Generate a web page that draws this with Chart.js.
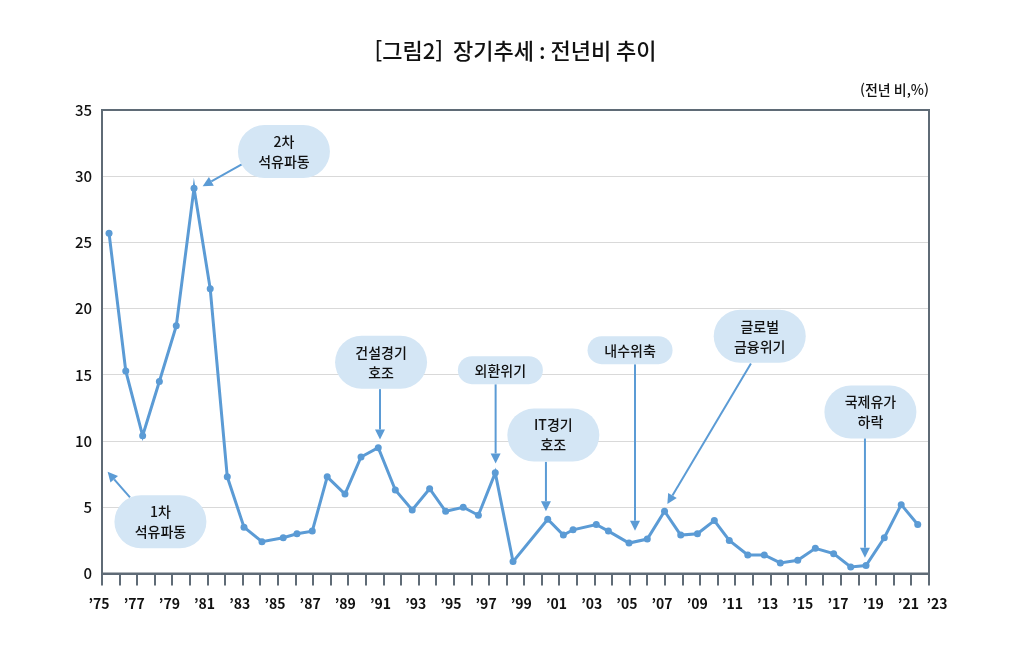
<!DOCTYPE html>
<html lang="ko">
<head>
<meta charset="utf-8">
<title>장기추세 : 전년비 추이</title>
<script src="https://cdn.jsdelivr.net/npm/chart.js@4.4.1/dist/chart.umd.min.js"></script>
<style>
	body { margin: 0; background: #fff; }
</style>
</head>
<body>
<canvas id="trendChart" width="1030" height="650"></canvas>
<script>
const FONT = "'Noto Sans CJK KR', 'Noto Sans', sans-serif";
const LINE_BLUE = '#5b9bd5';
const FRAME = '#5f6b76';

// x position of each point (year) and yoy growth (%)
const years = [
	1975.40, 1976.35, 1977.31, 1978.26, 1979.22, 1980.23, 1981.15, 1982.12, 1983.07, 1984.09,
	1985.30, 1986.08, 1986.95, 1987.80, 1988.81, 1989.72, 1990.70, 1991.67, 1992.63, 1993.62,
	1994.53, 1995.53, 1996.39, 1997.35, 1998.36, 2000.33, 2001.22, 2001.77, 2003.09, 2003.78,
	2004.95, 2005.99, 2006.97, 2007.89, 2008.84, 2009.80, 2010.65, 2011.70, 2012.64, 2013.55,
	2014.54, 2015.54, 2016.58, 2017.55, 2018.42, 2019.46, 2020.42, 2021.36
];
const growth = [
	25.7, 15.3, 10.4, 14.5, 18.7, 29.1, 21.5, 7.3, 3.5, 2.4,
	2.7, 3.0, 3.2, 7.3, 6.0, 8.8, 9.5, 6.3, 4.8, 6.4,
	4.7, 5.0, 4.4, 7.6, 0.9, 4.1, 2.9, 3.3, 3.7, 3.2,
	2.3, 2.6, 4.7, 2.9, 3.0, 4.0, 2.5, 1.4, 1.4, 0.8,
	1.0, 1.9, 1.5, 0.5, 0.6, 2.7, 5.2, 3.7
];

// labelled years on the x axis ('23 sits past the last tick)
const yearLabels = [1975, 1977, 1979, 1981, 1983, 1985, 1987, 1989, 1991, 1993, 1995, 1997,
	1999, 2001, 2003, 2005, 2007, 2009, 2011, 2013, 2015, 2017, 2019, 2021, 2023];
const yTicks = [0, 5, 10, 15, 20, 25, 30, 35];

// callouts: box centre and arrow in chart units (year, %)
const callouts = [
	{ text: '2차\n석유파동', box: [1985.34, 31.87], from: [1982.94, 30.90], to: [1980.72, 29.25] },
	{ text: '1차\n석유파동', box: [1978.32, 3.91], from: [1976.59, 5.75], to: [1975.32, 7.68] },
	{ text: '건설경기\n호조', box: [1990.86, 15.95], from: [1990.80, 13.92], to: [1990.80, 10.12] },
	{ text: '외환위기', box: [1997.64, 15.35], from: [1997.37, 14.29], to: [1997.37, 8.31] },
	{ text: 'IT경기\n호조', box: [2000.65, 10.45], from: [2000.23, 8.43], to: [2000.23, 4.71] },
	{ text: '내수위축', box: [2005.01, 16.86], from: [2005.29, 15.80], to: [2005.29, 3.23] },
	{ text: '글로벌\n금융위기', box: [2012.38, 17.92], from: [2011.88, 15.86], to: [2007.13, 5.24] },
	{ text: '국제유가\n하락', box: [2018.67, 12.20], from: [2018.36, 10.22], to: [2018.36, 1.19] }
];

function shortYear(y) {
	return '\u2019' + String(y).slice(2);
}

function pillPath(ctx, x, y, w, h) {
	const r = h / 2;
	ctx.beginPath();
	ctx.moveTo(x + r, y);
	ctx.lineTo(x + w - r, y);
	ctx.arc(x + w - r, y + r, r, -Math.PI / 2, Math.PI / 2);
	ctx.lineTo(x + r, y + h);
	ctx.arc(x + r, y + r, r, Math.PI / 2, Math.PI * 1.5);
	ctx.closePath();
}

function drawArrow(ctx, x1, y1, x2, y2) {
	const ang = Math.atan2(y2 - y1, x2 - x1);
	const len = 10, half = 5;
	const bx = x2 - len * Math.cos(ang), by = y2 - len * Math.sin(ang);
	ctx.strokeStyle = LINE_BLUE;
	ctx.fillStyle = LINE_BLUE;
	ctx.lineWidth = 2;
	ctx.beginPath();
	ctx.moveTo(x1, y1);
	ctx.lineTo(bx, by);
	ctx.stroke();
	ctx.beginPath();
	ctx.moveTo(x2, y2);
	ctx.lineTo(bx + half * Math.sin(ang), by - half * Math.cos(ang));
	ctx.lineTo(bx - half * Math.sin(ang), by + half * Math.cos(ang));
	ctx.closePath();
	ctx.fill();
}

// plot frame on all four sides
const framePlugin = {
	id: 'frame',
	beforeDatasetsDraw(chart) {
		const { ctx, chartArea: a } = chart;
		ctx.save();
		ctx.strokeStyle = FRAME;
		ctx.lineWidth = 2;
		ctx.strokeRect(a.left, a.top, a.right - a.left, a.bottom - a.top);
		ctx.restore();
	}
};

// callout bubbles, unit note and the trailing '23 label
const calloutPlugin = {
	id: 'callouts',
	afterDatasetsDraw(chart) {
		const { ctx, chartArea: a } = chart;
		const xs = chart.scales.x, ys = chart.scales.y;
		ctx.save();
		callouts.forEach(c => {
			drawArrow(ctx,
				xs.getPixelForValue(c.from[0]), ys.getPixelForValue(c.from[1]),
				xs.getPixelForValue(c.to[0]), ys.getPixelForValue(c.to[1]));
		});
		ctx.font = '500 14px ' + FONT;
		ctx.textAlign = 'center';
		ctx.textBaseline = 'middle';
		callouts.forEach(c => {
			const lines = c.text.split('\n');
			const cx = xs.getPixelForValue(c.box[0]);
			const cy = ys.getPixelForValue(c.box[1]);
			const w = lines.length > 1 ? 92 : 85;
			const h = lines.length > 1 ? 53 : 28;
			pillPath(ctx, cx - w / 2, cy - h / 2, w, h);
			ctx.fillStyle = '#d4e6f5';
			ctx.fill();
			ctx.fillStyle = '#111';
			lines.forEach((ln, i) => {
				ctx.fillText(ln, cx, cy + (i - (lines.length - 1) / 2) * 20);
			});
		});

		ctx.font = '500 14px ' + FONT;
		ctx.textAlign = 'right';
		ctx.fillStyle = '#111';
		ctx.fillText('(전년 비,%)', a.right, a.top - 20);

		ctx.font = 'bold 14px ' + FONT;
		ctx.textAlign = 'center';
		ctx.textBaseline = 'top';
		const last = yearLabels[yearLabels.length - 1];
		ctx.fillText(shortYear(last), xs.getPixelForValue(xs.max) + 8, a.bottom + 23);
		ctx.restore();
	}
};

new Chart(document.getElementById('trendChart'), {
	type: 'line',
	data: {
		datasets: [{
			label: '전년비',
			data: years.map((x, i) => ({ x: x, y: growth[i] })),
			borderColor: LINE_BLUE,
			backgroundColor: LINE_BLUE,
			borderWidth: 3,
			pointRadius: 3.5,
			pointBorderWidth: 0,
			pointBackgroundColor: LINE_BLUE,
			tension: 0,
			fill: false
		}]
	},
	options: {
		responsive: false,
		animation: false,
		layout: {
			padding: { left: 0, right: 101, top: 0, bottom: 0 }
		},
		scales: {
			x: {
				type: 'linear',
				min: 1975,
				max: 2022,
				afterFit(scale) { scale.height = 76.5; },
				ticks: {
					stepSize: 1,
					autoSkip: false,
					maxRotation: 0,
					padding: 10,
					labelOffset: -3,
					color: '#111',
					font: { family: FONT, size: 14, weight: 'bold' },
					callback: v => yearLabels.includes(Math.round(v)) ? shortYear(Math.round(v)) : ''
				},
				grid: {
					drawOnChartArea: false,
					drawTicks: true,
					tickLength: 12,
					color: FRAME,
					lineWidth: 2
				},
				border: { display: true, color: FRAME, width: 2 }
			},
			y: {
				min: 0,
				max: 35,
				afterFit(scale) { scale.width = 102; },
				afterBuildTicks(scale) { scale.ticks = yTicks.map(v => ({ value: v })); },
				ticks: {
					padding: 10,
					color: '#111',
					font: { family: FONT, size: 15, weight: 500 }
				},
				grid: {
					color: '#d9d9d9',
					lineWidth: 1,
					drawTicks: false
				},
				border: { display: true, color: FRAME, width: 2 }
			}
		},
		plugins: {
			legend: { display: false },
			tooltip: { enabled: false },
			title: {
				display: true,
				fullSize: false,
				text: '[그림2]  장기추세 : 전년비 추이',
				color: '#111',
				font: { family: FONT, size: 22, weight: 500 },
				padding: { top: 37, bottom: 46.6 }
			}
		}
	},
	plugins: [framePlugin, calloutPlugin]
});
</script>
</body>
</html>
